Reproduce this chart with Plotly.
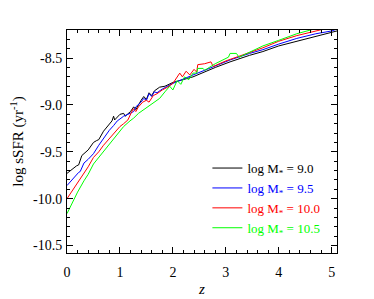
import plotly.graph_objects as go

# Redshift / log sSFR samples
z_m90 = [0.0, 0.13, 0.18, 0.22, 0.28, 0.4, 0.5, 0.56, 0.6, 0.69, 0.75, 0.8, 0.85, 0.88, 0.9, 1.0, 1.07, 1.1,
         1.2, 1.26, 1.3, 1.4, 1.45, 1.5, 1.55, 1.6, 1.65, 1.75, 1.85, 2.0, 2.38, 2.8, 3.08, 3.45, 3.7,
         4.0, 4.34, 4.7, 5.0, 5.1]
s_m90 = [-9.73, -9.67, -9.65, -9.64, -9.54, -9.48, -9.40, -9.38, -9.37, -9.28, -9.24, -9.20, -9.17, -9.12,
         -9.16, -9.10, -9.09, -9.12, -9.07, -9.02, -9.05, -8.95, -8.91, -8.94, -8.87, -8.90, -8.85, -8.81,
         -8.80, -8.76, -8.70, -8.60, -8.54, -8.47, -8.43, -8.37, -8.32, -8.27, -8.23, -8.21]

z_m95 = [0.0, 0.13, 0.22, 0.25, 0.32, 0.4, 0.5, 0.6, 0.69, 0.75, 0.8, 0.88, 0.95, 1.0, 1.07, 1.15, 1.26, 1.3,
         1.4, 1.45, 1.5, 1.55, 1.6, 1.65, 1.7, 1.8, 1.9, 2.0, 2.38, 2.8, 3.08, 3.45, 3.7, 4.0, 4.34, 4.7,
         5.0, 5.1]
s_m95 = [-9.86, -9.77, -9.72, -9.71, -9.62, -9.58, -9.52, -9.43, -9.36, -9.30, -9.27, -9.22, -9.17, -9.15,
         -9.12, -9.10, -9.07, -9.02, -8.97, -8.93, -8.95, -8.88, -8.91, -8.86, -8.87, -8.83, -8.80, -8.77,
         -8.68, -8.58, -8.52, -8.45, -8.41, -8.35, -8.29, -8.24, -8.21, -8.19]

z_m100 = [0.0, 0.13, 0.2, 0.32, 0.4, 0.5, 0.6, 0.69, 0.8, 0.88, 1.0, 1.07, 1.15, 1.25, 1.3, 1.35, 1.43, 1.5,
          1.55, 1.63, 1.7, 1.8, 1.9, 2.0, 2.13, 2.18, 2.25, 2.32, 2.4, 2.45, 2.47, 2.6, 2.72, 2.76, 3.0,
          3.45, 3.7, 4.0, 4.34, 4.78, 5.1]
s_m100 = [-10.0, -9.89, -9.83, -9.72, -9.66, -9.56, -9.50, -9.43, -9.36, -9.31, -9.23, -9.20, -9.16, -9.04,
          -9.07, -9.02, -8.97, -8.95, -8.97, -8.90, -8.88, -8.84, -8.81, -8.77, -8.66, -8.70, -8.64, -8.68,
          -8.62, -8.65, -8.57, -8.56, -8.54, -8.59, -8.53, -8.44, -8.39, -8.32, -8.26, -8.20, -8.16]

z_m105 = [0.0, 0.13, 0.2, 0.32, 0.4, 0.5, 0.6, 0.69, 0.8, 0.88, 1.0, 1.07, 1.19, 1.26, 1.35, 1.45, 1.55, 1.65,
          1.75, 1.85, 1.94, 2.0, 2.08, 2.15, 2.22, 2.3, 2.38, 2.45, 2.47, 2.57, 2.6, 2.8, 3.05, 3.08, 3.2,
          3.25, 3.5, 3.7, 4.0, 4.34, 4.6, 5.1]
s_m105 = [-10.16, -10.00, -9.93, -9.81, -9.74, -9.63, -9.56, -9.49, -9.41, -9.36, -9.28, -9.23, -9.17, -9.14,
          -9.09, -9.05, -9.01, -8.97, -8.93, -8.86, -8.80, -8.84, -8.74, -8.78, -8.70, -8.73, -8.66, -8.66,
          -8.61, -8.61, -8.63, -8.56, -8.49, -8.45, -8.45, -8.49, -8.42, -8.37, -8.31, -8.24, -8.20, -8.13]

series = [
    ("9.0", "#000000", z_m90, s_m90),
    ("9.5", "#0000ff", z_m95, s_m95),
    ("10.0", "#ff0000", z_m100, s_m100),
    ("10.5", "#00ff00", z_m105, s_m105),
]

x_ticks = [0, 1, 2, 3, 4, 5]
x_ticktext = ["0", "1", "2", "3", "4", "5"]
y_ticks = [-10.5, -10.0, -9.5, -9.0, -8.5]
y_ticktext = ["-10.5", "-10.0", "-9.5", "-9.0", "-8.5"]

FONT = "Liberation Serif"

fig = go.Figure()
for label, color, zz, ss in series:
    fig.add_trace(go.Scatter(
        x=zz, y=ss, mode="lines",
        line=dict(color=color, width=1),
        name=f"<span style='color:{color}'>log M<sub>*</sub> = {label}</span>",
    ))

axis_common = dict(
    showline=True, linecolor="black", linewidth=1, mirror="ticks",
    ticks="inside", tickcolor="black", ticklen=6, tickwidth=1,
    showgrid=False, zeroline=False, automargin=False,
    tickfont=dict(family=FONT, size=14, color="black"),
)

fig.update_xaxes(
    range=[0, 5.1], tickvals=x_ticks, ticktext=x_ticktext, ticklabelstandoff=6,
    minor=dict(dtick=0.2, tick0=0, ticks="inside", ticklen=3, tickcolor="black", showgrid=False),
    title=dict(text="<i>z</i>", font=dict(family=FONT, size=15, color="black"), standoff=4),
    **axis_common,
)
fig.update_yaxes(
    range=[-10.58, -8.2], tickvals=y_ticks, ticktext=y_ticktext, ticklabelstandoff=1,
    minor=dict(dtick=0.1, tick0=-10.5, ticks="inside", ticklen=3, tickcolor="black", showgrid=False),
    title=dict(text="log sSFR (yr<sup>-1</sup>)", font=dict(family=FONT, size=15, color="black"), standoff=8),
    **axis_common,
)

# page body adds an 8px offset, so margins are shifted accordingly
fig.update_layout(
    width=374, height=299,
    margin=dict(l=59, r=45, t=22, b=54),
    paper_bgcolor="white", plot_bgcolor="white",
    font=dict(family=FONT, size=14, color="black"),
    legend=dict(
        x=0.52, y=0.448, xanchor="left", yanchor="top",
        bgcolor="rgba(0,0,0,0)", borderwidth=0,
        font=dict(family=FONT, size=13),
        itemwidth=30, tracegroupgap=0,
    ),
    showlegend=True,
)

fig.write_html("out.html")
